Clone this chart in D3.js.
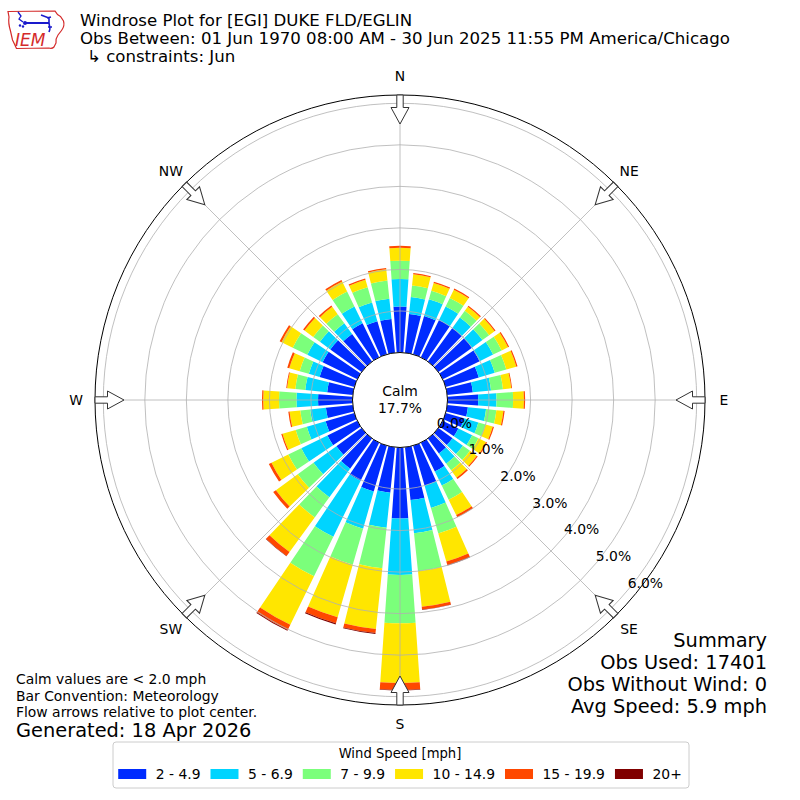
<!DOCTYPE html>
<html>
<head>
<meta charset="utf-8"/>
<title>Windrose EGI</title>
<script src="https://cdn.jsdelivr.net/npm/d3@7"></script>
<style>
  body { margin: 0; background: #fff; }
  text { font-family: "DejaVu Sans", sans-serif; }
</style>
</head>
<body>
<svg id="rose" width="800" height="800"></svg>
<script>
// ---- data ----
var directions = [0, 10, 20, 30, 40, 50, 60, 70, 80, 90, 100, 110, 120, 130, 140, 150, 160, 170,
                  180, 190, 200, 210, 220, 230, 240, 250, 260, 270, 280, 290, 300, 310, 320, 330, 340, 350];
var speedBins = ["2 - 4.9", "5 - 6.9", "7 - 9.9", "10 - 14.9", "15 - 19.9", "20+"];

// percent of observations per direction, one array per speed bin
var pct2to5 = [1.11, 0.94, 0.96, 1.00, 1.00, 1.00, 0.99, 0.83, 0.62, 0.74, 0.50, 0.46, 0.42, 0.42, 0.45, 0.77, 1.00, 1.28,
               1.71, 1.10, 1.15, 1.02, 0.90, 0.75, 0.80, 0.72, 0.65, 0.83, 0.62, 0.87, 0.93, 0.93, 0.82, 0.91, 0.83, 0.82];
var pct5to7 = [0.66, 0.41, 0.42, 0.36, 0.31, 0.31, 0.36, 0.40, 0.44, 0.44, 0.44, 0.36, 0.37, 0.31, 0.30, 0.38, 0.56, 0.80,
               1.36, 0.85, 0.93, 1.50, 0.85, 0.68, 0.70, 0.47, 0.38, 0.52, 0.53, 0.27, 0.41, 0.31, 0.32, 0.45, 0.47, 0.49];
var pct7to10 = [0.44, 0.28, 0.21, 0.23, 0.20, 0.20, 0.23, 0.29, 0.29, 0.40, 0.25, 0.18, 0.17, 0.21, 0.20, 0.38, 0.64, 0.92,
                1.16, 0.98, 0.90, 1.06, 0.60, 0.47, 0.35, 0.28, 0.24, 0.42, 0.24, 0.23, 0.39, 0.20, 0.27, 0.40, 0.38, 0.44];
var pct10to15 = [0.31, 0.27, 0.20, 0.22, 0.12, 0.16, 0.17, 0.25, 0.20, 0.26, 0.17, 0.18, 0.20, 0.20, 0.22, 0.41, 0.70, 0.86,
                 1.44, 1.47, 1.32, 1.30, 1.03, 0.65, 0.45, 0.33, 0.26, 0.38, 0.20, 0.26, 0.30, 0.26, 0.22, 0.27, 0.19, 0.27];
var pct15to20 = [0.05, 0.03, 0.03, 0.03, 0.03, 0.03, 0.03, 0.03, 0.02, 0.03, 0.03, 0.03, 0.03, 0.03, 0.04, 0.06, 0.09, 0.07,
                 0.17, 0.10, 0.15, 0.14, 0.12, 0.08, 0.07, 0.03, 0.03, 0.03, 0.02, 0.05, 0.05, 0.04, 0.04, 0.04, 0.03, 0.03];
var pct20plus = [0, 0, 0, 0, 0, 0, 0, 0, 0, 0, 0, 0, 0, 0, 0, 0, 0.01, 0.01,
                 0.01, 0.02, 0.03, 0.02, 0.01, 0, 0, 0, 0, 0, 0, 0, 0, 0, 0, 0, 0, 0];

var ringTicks = [0, 1, 2, 3, 4, 5, 6];
var compassLabels = ["N", "NE", "E", "SE", "S", "SW", "W", "NW"];
var compassAngles = [0, 45, 90, 135, 180, 225, 270, 315];
var calmPct = 17.7;

var titleLines = ["Windrose Plot for [EGI] DUKE FLD/EGLIN",
                  "Obs Between: 01 Jun 1970 08:00 AM - 30 Jun 2025 11:55 PM America/Chicago",
                  "\u21b3 constraints: Jun"];
var noteLines = ["Calm values are < 2.0 mph", "Bar Convention: Meteorology", "Flow arrows relative to plot center."];
var generatedText = "Generated: 18 Apr 2026";
var summaryLines = ["Summary", "Obs Used: 17401", "Obs Without Wind: 0", "Avg Speed: 5.9 mph"];

// jet colormap samples
var binColors = ["#002bff", "#00d4ff", "#7bff7b", "#ffe600", "#ff4800", "#800000"];

// ---- drawing ----
var series = [pct2to5, pct5to7, pct7to10, pct10to15, pct15to20, pct20plus];
var svg = d3.select("#rose"),
    cx = 400, cy = 400,
    rFrame = 305;

var r = d3.scaleLinear().domain([0, 6.2]).range([47.5, rFrame]);
var rad = Math.PI / 180;
var barHalf = 4; // degrees, bars cover 8 of each 10 degree sector

function pt(deg, radius) {
  return [cx + radius * Math.sin(deg * rad), cy - radius * Math.cos(deg * rad)];
}

var g = svg.append("g").attr("transform", "translate(" + cx + "," + cy + ")");

// stacked bars
var arc = d3.arc();
var segs = [];
directions.forEach(function(dir, i) {
  var cum = 0;
  series.forEach(function(s, k) {
    var v = s[i];
    if (v > 0) segs.push({dir: dir, k: k, lo: cum, hi: cum + v});
    cum += v;
  });
});

g.append("g").selectAll("path")
  .data(segs)
  .enter().append("path")
    .attr("d", function(d) {
      return arc({
        innerRadius: r(d.lo),
        outerRadius: r(d.hi),
        startAngle: (d.dir - barHalf) * rad,
        endAngle: (d.dir + barHalf) * rad
      });
    })
    .attr("fill", function(d) { return binColors[d.k]; });

// grid on top of bars
g.append("g").selectAll("circle")
  .data(ringTicks.slice(1))
  .enter().append("circle")
    .attr("r", function(d) { return r(d); })
    .attr("fill", "none")
    .attr("stroke", "#b0b0b0")
    .attr("stroke-width", 0.8);

g.append("g").selectAll("line")
  .data(compassAngles)
  .enter().append("line")
    .attr("x1", function(d) { return r(0) * Math.sin(d * rad); })
    .attr("y1", function(d) { return -r(0) * Math.cos(d * rad); })
    .attr("x2", function(d) { return rFrame * Math.sin(d * rad); })
    .attr("y2", function(d) { return -rFrame * Math.cos(d * rad); })
    .attr("stroke", "#b0b0b0")
    .attr("stroke-width", 0.8);

// frame
g.append("circle").attr("r", rFrame).attr("fill", "none").attr("stroke", "#000").attr("stroke-width", 1);

// calm hole
g.append("circle").attr("r", r(0)).attr("fill", "#fff").attr("stroke", "#000").attr("stroke-width", 1);
g.append("text").attr("x", 0).attr("y", -9).attr("text-anchor", "middle")
  .attr("dominant-baseline", "central").attr("font-size", "13.9px").text("Calm");
g.append("text").attr("x", 0).attr("y", 8).attr("text-anchor", "middle")
  .attr("dominant-baseline", "central").attr("font-size", "13.9px").text(calmPct.toFixed(1) + "%");

// flow arrows pointing to center
var arrowPath = "M0," + (-276) + " L9," + (-292.5) + " L3.2," + (-292.5) + " L3.2," + (-305) +
                " L-3.2," + (-305) + " L-3.2," + (-292.5) + " L-9," + (-292.5) + " Z";
g.append("g").selectAll("path")
  .data(compassAngles)
  .enter().append("path")
    .attr("d", arrowPath)
    .attr("transform", function(d) { return "rotate(" + d + ")"; })
    .attr("fill", "#fff")
    .attr("stroke", "#333")
    .attr("stroke-width", 1)
    .attr("stroke-linejoin", "miter");

// compass labels
svg.append("g").selectAll("text")
  .data(compassLabels)
  .enter().append("text")
    .attr("x", function(d, i) { return pt(compassAngles[i], 324)[0]; })
    .attr("y", function(d, i) { return pt(compassAngles[i], 324)[1]; })
    .attr("text-anchor", "middle")
    .attr("dominant-baseline", "central")
    .attr("font-size", "13.9px")
    .text(function(d) { return d; });

// radial tick labels
svg.append("g").selectAll("text")
  .data(ringTicks)
  .enter().append("text")
    .attr("x", function(d) { return pt(130, r(d))[0] + 18; })
    .attr("y", function(d) { return pt(130, r(d))[1] - 8; })
    .attr("text-anchor", "middle")
    .attr("dominant-baseline", "central")
    .attr("font-size", "13.9px")
    .text(function(d) { return d.toFixed(1) + "%"; });

// title
svg.append("g").selectAll("text")
  .data(titleLines)
  .enter().append("text")
    .attr("x", function(d, i) { return i === 2 ? 87 : 80; })
    .attr("y", function(d, i) { return 26 + i * 18; })
    .attr("font-size", "16.6px")
    .text(function(d) { return d; });

// notes, bottom left
svg.append("g").selectAll("text")
  .data(noteLines)
  .enter().append("text")
    .attr("x", 16)
    .attr("y", function(d, i) { return 684 + i * 16.5; })
    .attr("font-size", "13.9px")
    .text(function(d) { return d; });
svg.append("text").attr("x", 16).attr("y", 737).attr("font-size", "19.4px").text(generatedText);

// summary, bottom right
svg.append("g").selectAll("text")
  .data(summaryLines)
  .enter().append("text")
    .attr("x", 767)
    .attr("y", function(d, i) { return 647 + i * 22; })
    .attr("text-anchor", "end")
    .attr("font-size", "19.4px")
    .text(function(d) { return d; });

// legend
var leg = svg.append("g");
leg.append("rect").attr("x", 113).attr("y", 742).attr("width", 576).attr("height", 46)
  .attr("rx", 3).attr("fill", "#fff").attr("stroke", "#cccccc").attr("stroke-width", 1);
leg.append("text").attr("x", 400).attr("y", 753).attr("text-anchor", "middle")
  .attr("dominant-baseline", "central").attr("font-size", "13.2px").text("Wind Speed [mph]");

var items = leg.selectAll("g.item").data(speedBins).enter().append("g").attr("class", "item");
items.append("rect").attr("width", 28).attr("height", 10).attr("y", 769)
  .attr("fill", function(d, i) { return binColors[i]; });
items.append("text").attr("y", 774).attr("dominant-baseline", "central")
  .attr("font-size", "13.9px").text(function(d) { return d; });

var widths = [];
items.select("text").each(function() { widths.push(this.getComputedTextLength()); });
var total = d3.sum(widths) + speedBins.length * (28 + 9.5) + (speedBins.length - 1) * 10;
var xpos = 400 - total / 2;
items.each(function(d, i) {
  var it = d3.select(this);
  it.select("rect").attr("x", xpos);
  it.select("text").attr("x", xpos + 28 + 9.5);
  xpos += 28 + 9.5 + widths[i] + 10;
});

// IEM logo
var logo = svg.append("g");
logo.append("path")
  .attr("d", "M8,11.5 L55,11 Q57,15 60.5,16.5 L63.5,21 Q65,26 61.5,30.5 L58,35 Q55.5,38.5 56,43 L54,47 Q52,49 49,48 L16.5,48.5 Q14.5,44 12.5,40 L10.5,31 Q8,23 9,17 Z")
  .attr("fill", "#fff").attr("stroke", "#d42a2a").attr("stroke-width", 1.2);
logo.append("line").attr("x1", 25).attr("y1", 23).attr("x2", 49).attr("y2", 23)
  .attr("stroke", "#1a1acc").attr("stroke-width", 2);
logo.append("path").attr("d", "M18,12 L21,16 L19,19 L23,22")
  .attr("fill", "none").attr("stroke", "#1a1acc").attr("stroke-width", 1.3);
logo.append("circle").attr("cx", 25).attr("cy", 23).attr("r", 2).attr("fill", "#1a1acc");
logo.append("circle").attr("cx", 20).attr("cy", 25.5).attr("r", 1.2).attr("fill", "#1a1acc");
logo.append("circle").attr("cx", 23).attr("cy", 26.5).attr("r", 1.2).attr("fill", "#1a1acc");
logo.append("path").attr("d", "M41,15 L49,18 L49,23 M47,18 L51,17 M49,23 L50,29 M48,27 L52,27 M50,29 L49,32")
  .attr("fill", "none").attr("stroke", "#1a1acc").attr("stroke-width", 1.6);
logo.append("text").attr("x", 15).attr("y", 45.5).attr("font-family", "Liberation Serif, serif")
  .attr("font-style", "italic").attr("font-size", "17px").attr("fill", "#d42a2a").text("IEM");
</script>
</body>
</html>
